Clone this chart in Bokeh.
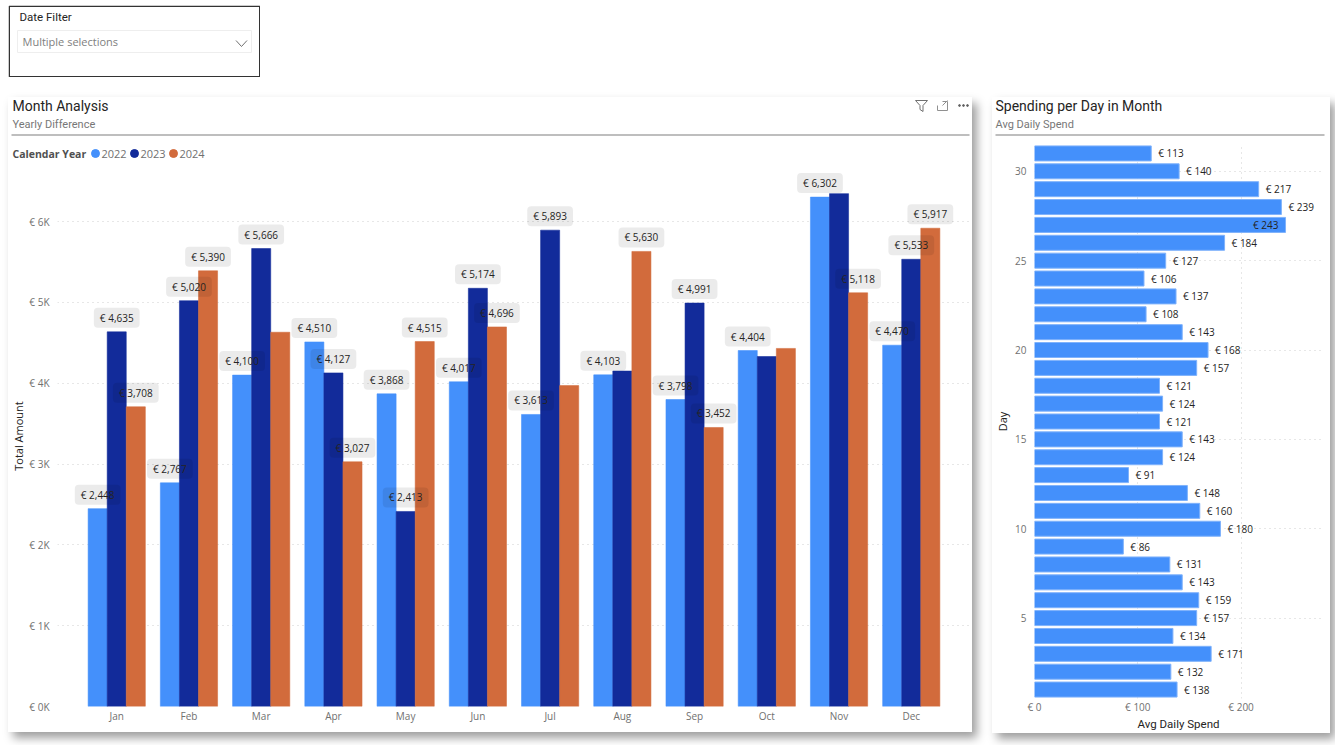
from bokeh.plotting import figure
from bokeh.layouts import column, row
from bokeh.embed import file_html
from bokeh.resources import INLINE
from bokeh.models import ColumnDataSource, FactorRange, Range1d, FixedTicker
from bokeh.transform import dodge
from bokeh.core.properties import value

months = ["Jan", "Feb", "Mar", "Apr", "May", "Jun", "Jul", "Aug", "Sep", "Oct", "Nov", "Dec"]
y2022 = [2448, 2767, 4100, 4510, 3868, 4017, 3613, 4103, 3798, 4404, 6302, 4470]
y2023 = [4635, 5020, 5666, 4127, 2413, 5174, 5893, 4150, 4991, 4330, 6345, 5533]
y2024 = [3708, 5390, 4630, 3027, 4515, 4696, 3970, 5630, 3452, 4430, 5118, 5917]
show2022 = [True] * 12
show2023 = [True, True, True, True, True, True, True, False, True, False, False, True]
show2024 = [True, True, False, True, True, True, False, True, True, False, True, True]
years = ["2022", "2023", "2024"]
y_ticks = [0, 1000, 2000, 3000, 4000, 5000, 6000]
y_tick_labels = ["€ 0K", "€ 1K", "€ 2K", "€ 3K", "€ 4K", "€ 5K", "€ 6K"]

days = list(range(1, 32))
daily = [138, 132, 171, 134, 157, 159, 143, 131, 86, 180, 160, 148, 91, 124, 143, 121,
         124, 121, 157, 168, 143, 108, 137, 106, 127, 184, 243, 239, 217, 140, 113]
inside_from = 240
day_ticks = [5, 10, 15, 20, 25, 30]
spend_ticks = [0, 100, 200]
spend_tick_labels = ["€ 0", "€ 100", "€ 200"]

C22, C23, C24 = "#4490FB", "#122B9A", "#D26B3C"
DARK, GRAY = "#252423", "#707070"
LABEL_FONT, TITLE_FONT = "Open Sans", "Roboto"
SHADOW = {"box-shadow": "5px 6px 9px rgba(0,0,0,0.38)"}


def eur(v):
    return f"€ {v:,}"


def style_axes(p):
    for ax in (p.xaxis[0], p.yaxis[0]):
        ax.axis_line_color = None
        ax.major_tick_line_color = None
        ax.minor_tick_line_color = None
        ax.major_tick_out = 0
        ax.major_tick_in = 0
        ax.minor_tick_out = 0
        ax.minor_tick_in = 0
        ax.major_label_text_color = GRAY
        ax.major_label_text_font = LABEL_FONT
        ax.major_label_text_font_size = "10px"
        ax.axis_label_text_font_style = "normal"
        ax.axis_label_text_color = DARK


def pixel_figure(w, h, **kw):
    s = figure(width=w, height=h, x_range=(0, w), y_range=(h, 0), output_backend="svg", toolbar_location=None,
               min_border=0, outline_line_color=None, frame_align=False, **kw)
    s.axis.visible = False
    s.grid.visible = False
    return s


def put(s, x, y, text, size="11px", color=DARK, font=LABEL_FONT, style="normal", align="left"):
    s.text(x=[x], y=[y], text=[text], text_font=value(font), text_font_size=size, text_color=color,
           text_font_style=style, text_align=align, text_baseline="middle")


# ---------- Date filter
f = pixel_figure(252, 72, margin=(5, 0, 0, 8))
f.quad(left=[0.75], right=[251.25], top=[0.75], bottom=[71.25], fill_color="white", line_color="#333333", line_width=1.5)
f.quad(left=[9], right=[243], top=[25], bottom=[47], fill_color="white", line_color="#eeeeee", line_width=1)
put(f, 11, 11, "Date Filter", size="11.5px", font=TITLE_FONT)
put(f, 14, 36, "Multiple selections", color="#808080")
f.line(x=[227.5, 233, 238.5], y=[35, 41, 35], line_color="#707070", line_width=1)

# ---------- Month analysis header
h1 = pixel_figure(964, 68)
put(h1, 4, 8, "Month Analysis", size="14px", font=TITLE_FONT)
put(h1, 4, 27, "Yearly Difference", color="#777777", font=TITLE_FONT)
h1.line(x=[3, 961], y=[37.5, 37.5], line_color="#a8a8a8", line_width=1.5)
put(h1, 4, 56, "Calendar Year", size="10.5px", color="#505050", style="bold")
for x, c, y_ in zip([87, 126, 165], (C22, C23, C24), years):
    h1.scatter(x=[x], y=[56], marker="circle", size=8, fill_color=c, line_color=c)
    put(h1, x + 6, 56, y_, color=GRAY)
h1.patch(x=[907, 919, 914.5, 914.5, 911.5, 911.5], y=[3, 3, 8, 14, 12, 8], fill_alpha=0, line_color="#707070", line_width=1)
h1.multi_line(xs=[[929, 929, 939, 939, 934], [934, 939]], ys=[[8, 13, 13, 4, 4], [8, 3]], line_color="#909090", line_width=1)
h1.scatter(x=[951, 955, 959], y=[8, 8, 8], marker="circle", size=1.8, fill_color="#606060", line_color="#606060")

# ---------- Month analysis plot
FT, FB = 165, 706
src = ColumnDataSource(dict(month=months, y2022=y2022, y2023=y2023, y2024=y2024))
xr = FactorRange(factors=months, range_padding=0.64 / 12)
top_val = (FB - FT) / 80.83 * 1000
p = figure(frame_width=913, frame_height=FB - FT, x_range=xr, y_range=Range1d(0, top_val), output_backend="svg",
           toolbar_location=None, min_border_left=49, min_border_right=2, min_border_top=0,
           min_border_bottom=26, outline_line_color=None, frame_align=False)
w = 0.264
for name, col, off in (("y2022", C22, -w), ("y2023", C23, 0), ("y2024", C24, w)):
    p.vbar(x=dodge("month", off, range=xr), top=name, width=w, bottom=0, source=src, fill_color=col,
           line_color=col, line_alpha=0.55, line_width=1)
for vals, shows, off in ((y2022, show2022, -w), (y2023, show2023, 0), (y2024, show2024, w)):
    rows = [(m, v) for m, v, s in zip(months, vals, shows) if s]
    ls = ColumnDataSource(dict(month=[r[0] for r in rows], v=[r[1] for r in rows], t=[eur(r[1]) for r in rows]))
    p.text(x=dodge("month", off, range=xr), y="v", text="t", source=ls, y_offset=-14, text_align="center",
           text_baseline="middle", text_font=value(LABEL_FONT), text_font_size="10px", text_color=DARK,
           padding=(6, 3), border_radius=4, background_fill_color="#000000", background_fill_alpha=0.08)
style_axes(p)
p.xgrid.visible = False
p.ygrid.grid_line_color = "#cfcfcf"
p.ygrid.grid_line_dash = "1 4"
p.ygrid.ticker = FixedTicker(ticks=y_ticks)
p.yaxis.ticker = FixedTicker(ticks=y_ticks)
p.yaxis.major_label_overrides = dict(zip(y_ticks, y_tick_labels))
p.yaxis.axis_label = "Total Amount"
p.yaxis.axis_label_text_font = LABEL_FONT
p.yaxis.axis_label_text_font_size = "11px"
p.yaxis.axis_label_standoff = 0
p.yaxis.major_label_standoff = 8
p.xaxis.major_label_standoff = 2

# ---------- Spending per day header
h2 = pixel_figure(337, 47)
put(h2, 3, 8, "Spending per Day in Month", size="14px", font=TITLE_FONT)
put(h2, 3, 27, "Avg Daily Spend", color="#777777", font=TITLE_FONT)
h2.line(x=[3, 332], y=[37.5, 37.5], line_color="#a8a8a8", line_width=1.5)

# ---------- Spending per day plot
in_rows = [(d, v) for d, v in zip(days, daily) if v >= inside_from]
out_rows = [(d, v) for d, v in zip(days, daily) if v < inside_from]
GT, GB = 144, 698
q = figure(frame_width=288, frame_height=GB - GT, x_range=Range1d(0, 288 / 1.033), y_range=Range1d(0.5, 31.5),
           output_backend="svg", toolbar_location=None, min_border_left=41, min_border_right=8, min_border_top=0,
           min_border_bottom=32, outline_line_color=None, frame_align=False)
q.hbar(y=days, right=daily, left=0, height=0.84, fill_color=C22, line_color="#7fb2fb", line_width=1)
q.text(x=[r[1] for r in out_rows], y=[r[0] for r in out_rows], text=[eur(r[1]) for r in out_rows], x_offset=7,
       text_baseline="middle", text_font=value(LABEL_FONT), text_font_size="10px", text_color=DARK)
q.text(x=[r[1] for r in in_rows], y=[r[0] for r in in_rows], text=[eur(r[1]) for r in in_rows], x_offset=-7,
       text_align="right", text_baseline="middle", text_font=value(LABEL_FONT), text_font_size="10px", text_color=DARK)
style_axes(q)
for g in (q.xgrid[0], q.ygrid[0]):
    g.grid_line_color = "#cfcfcf"
    g.grid_line_dash = "1 4"
q.ygrid.bounds = (0, 269)
q.xgrid.ticker = FixedTicker(ticks=spend_ticks)
q.ygrid.ticker = FixedTicker(ticks=day_ticks)
q.xaxis.ticker = FixedTicker(ticks=spend_ticks)
q.yaxis.ticker = FixedTicker(ticks=day_ticks)
q.xaxis.major_label_overrides = dict(zip(spend_ticks, spend_tick_labels))
q.xaxis.axis_label = "Avg Daily Spend"
q.xaxis.axis_label_text_font = TITLE_FONT
q.xaxis.axis_label_text_font_size = "11.5px"
q.xaxis.major_label_standoff = 1
q.xaxis.axis_label_standoff = 0
q.yaxis.axis_label = "Day"
q.yaxis.axis_label_text_font = LABEL_FONT
q.yaxis.axis_label_text_font_size = "11px"
q.yaxis.axis_label_standoff = 2
q.yaxis.major_label_standoff = 8

left = column(h1, p, styles=SHADOW, margin=(0, 0, 0, 0))
right = column(h2, q, styles=SHADOW, margin=(0, 0, 0, 20))
page = column(f, row(left, right, margin=(20, 0, 0, 8)), margin=(0, 0, 0, 0))
open("out.html", "w").write(file_html(page, INLINE))
